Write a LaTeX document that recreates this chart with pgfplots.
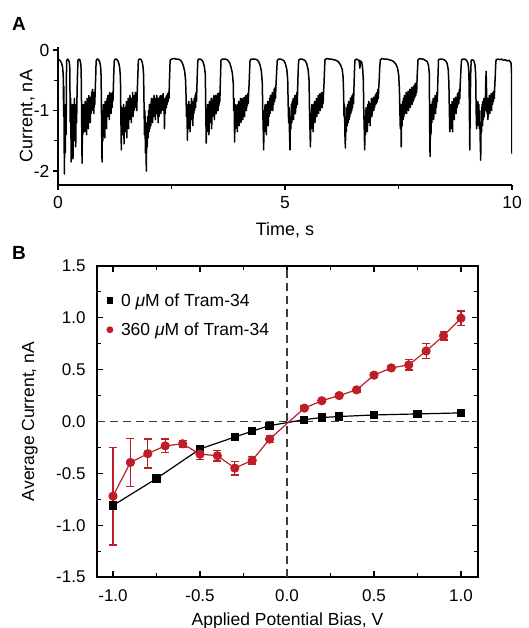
\documentclass[border=0pt]{standalone}
\usepackage{pgfplots}
\pgfplotsset{compat=1.18}
\usepackage{fontspec}
\setmainfont{Liberation Sans}
\definecolor{datared}{RGB}{190,30,40}
\definecolor{dashgray}{RGB}{60,60,60}

\begin{document}
\begin{tikzpicture}
\path[use as bounding box] (0pt,0pt) rectangle (529pt,628pt);
\node[font=\fontsize{19}{22}\selectfont\bfseries] at (19pt,604pt) {A};
\node[font=\fontsize{19}{22}\selectfont\bfseries] at (19pt,375pt) {B};

% panel A: current trace
\begin{axis}[
  at={(58pt,443pt)}, anchor=south west,
  width=454pt, height=138pt, scale only axis,
  xmin=0, xmax=10, ymin=-2.23, ymax=0.05,
  axis x line*=bottom, axis y line*=left,
  axis line style={line width=1.4pt,-},
  tick align=outside,
  major tick length=5pt, minor tick length=4pt,
  every tick/.style={black, line width=1.2pt},
  xtick={0,5,10}, minor xtick={2.5,7.5},
  ytick={-2,-1,0}, minor ytick={-1.5,-0.5},
  /pgf/number format/assume math mode=true,
  ticklabel style={font=\fontsize{17.5}{20}\selectfont},
  xticklabel style={yshift=-3pt},
  xlabel={Time, s}, ylabel={Current, nA},
  label style={font=\fontsize{18}{21}\selectfont},
  xlabel style={at={(axis description cs:0.5,-0.33)}, anchor=center},
  ylabel style={at={(axis description cs:-0.068,0.5)}, anchor=center},
]
\addplot[black, line width=1.5pt, line join=round] table {
t I
0.000 -0.14
0.020 -0.16
0.040 -0.17
0.060 -0.19
0.080 -0.22
0.100 -0.28
0.115 -0.40
0.125 -1.10
0.130 -0.60
0.140 -2.05
0.150 -1.20
0.160 -1.70
0.170 -0.90
0.180 -1.40
0.185 -0.50
0.190 -0.18
0.210 -0.15
0.230 -0.16
0.250 -0.20
0.260 -0.30
0.270 -1.20
0.280 -0.80
0.290 -1.85
0.300 -1.00
0.310 -1.60
0.320 -0.90
0.330 -1.80
0.340 -1.10
0.350 -1.50
0.360 -0.80
0.370 -1.30
0.380 -1.00
0.390 -1.60
0.400 -0.90
0.410 -1.20
0.420 -0.70
0.430 -0.40
0.440 -0.17
0.460 -0.15
0.480 -0.16
0.500 -0.22
0.510 -0.32
0.520 -1.00
0.530 -1.87
0.540 -1.10
0.550 -1.40
0.560 -0.90
0.570 -1.30
0.580 -1.00
0.590 -1.35
0.600 -0.85
0.610 -1.25
0.620 -0.95
0.630 -1.40
0.640 -0.80
0.650 -1.15
0.660 -0.90
0.670 -1.30
0.680 -0.75
0.690 -1.10
0.700 -0.85
0.710 -1.20
0.720 -0.78
0.730 -1.05
0.740 -0.70
0.750 -1.00
0.760 -0.65
0.770 -0.95
0.780 -0.75
0.790 -1.05
0.800 -0.70
0.810 -0.90
0.820 -0.65
0.830 -0.45
0.840 -0.18
0.860 -0.15
0.880 -0.15
0.900 -0.17
0.920 -0.20
0.940 -0.28
0.950 -0.45
0.960 -1.20
0.970 -1.85
0.980 -1.00
0.990 -1.50
1.000 -0.90
1.010 -1.30
1.020 -1.00
1.030 -1.45
1.040 -0.85
1.050 -1.20
1.060 -0.95
1.070 -1.30
1.080 -0.80
1.090 -1.10
1.100 -0.75
1.110 -1.05
1.120 -0.85
1.130 -1.15
1.140 -0.70
1.150 -1.00
1.160 -0.80
1.170 -1.05
1.180 -0.72
1.190 -0.95
1.200 -0.70
1.210 -0.85
1.220 -0.60
1.230 -0.35
1.240 -0.17
1.260 -0.15
1.280 -0.15
1.300 -0.16
1.320 -0.18
1.340 -0.22
1.360 -0.30
1.375 -0.45
1.385 -1.10
1.395 -1.65
1.405 -0.95
1.415 -1.40
1.425 -1.00
1.435 -1.30
1.445 -0.90
1.455 -1.55
1.465 -1.05
1.475 -1.35
1.485 -0.95
1.495 -1.25
1.505 -0.85
1.515 -1.45
1.525 -1.00
1.535 -1.20
1.545 -0.80
1.555 -1.30
1.565 -0.90
1.575 -1.15
1.585 -0.75
1.595 -1.05
1.605 -0.85
1.615 -1.20
1.625 -0.80
1.635 -1.00
1.645 -0.70
1.655 -1.10
1.665 -0.85
1.675 -1.00
1.685 -0.75
1.695 -0.95
1.705 -0.70
1.715 -0.90
1.725 -0.75
1.735 -1.00
1.745 -0.70
1.755 -0.50
1.770 -0.17
1.790 -0.15
1.810 -0.15
1.830 -0.16
1.850 -0.19
1.870 -0.26
1.885 -0.40
1.895 -0.90
1.905 -1.40
1.915 -1.00
1.925 -1.70
1.935 -1.20
1.945 -2.00
1.955 -1.30
1.965 -1.60
1.975 -1.10
1.985 -1.45
1.995 -1.00
2.005 -1.35
2.015 -0.90
2.025 -1.30
2.035 -0.95
2.045 -1.25
2.055 -0.80
2.065 -1.15
2.075 -0.85
2.085 -1.20
2.095 -0.80
2.105 -1.10
2.115 -0.75
2.125 -1.05
2.135 -0.80
2.145 -1.15
2.155 -0.85
2.165 -1.00
2.175 -0.75
2.185 -1.05
2.195 -0.80
2.205 -1.20
2.215 -0.90
2.225 -1.10
2.235 -0.78
2.245 -1.00
2.255 -0.75
2.265 -1.05
2.275 -0.82
2.285 -1.00
2.295 -0.75
2.305 -0.95
2.315 -0.72
2.325 -1.00
2.335 -0.80
2.345 -1.30
2.355 -0.85
2.365 -1.05
2.375 -0.78
2.385 -0.95
2.395 -0.75
2.405 -0.90
2.415 -0.72
2.425 -0.85
2.435 -0.70
2.445 -0.80
2.455 -0.50
2.470 -0.17
2.500 -0.15
2.550 -0.14
2.600 -0.15
2.650 -0.15
2.700 -0.17
2.730 -0.20
2.760 -0.26
2.790 -0.35
2.810 -0.50
2.820 -0.75
2.830 -1.10
2.840 -0.90
2.850 -1.49
2.860 -1.00
2.870 -1.30
2.880 -0.85
2.890 -1.20
2.900 -0.95
2.910 -1.35
2.920 -0.90
2.930 -1.15
2.940 -0.80
2.950 -1.10
2.960 -0.85
2.970 -1.25
2.980 -0.90
2.990 -1.05
3.000 -0.80
3.010 -1.00
3.020 -0.75
3.030 -0.95
3.040 -0.70
3.050 -0.85
3.060 -0.60
3.070 -0.35
3.080 -0.17
3.100 -0.15
3.130 -0.15
3.160 -0.16
3.190 -0.19
3.220 -0.26
3.245 -0.40
3.255 -1.00
3.265 -1.54
3.275 -1.00
3.285 -1.35
3.295 -0.90
3.305 -1.25
3.315 -0.95
3.325 -1.40
3.335 -0.85
3.345 -1.20
3.355 -0.90
3.365 -1.15
3.375 -0.80
3.385 -1.30
3.395 -0.85
3.405 -1.10
3.415 -0.80
3.425 -1.05
3.435 -0.75
3.445 -1.15
3.455 -0.85
3.465 -1.00
3.475 -0.75
3.485 -1.05
3.495 -0.80
3.505 -0.95
3.515 -0.72
3.525 -1.00
3.535 -0.78
3.545 -0.92
3.555 -0.70
3.565 -0.85
3.575 -0.55
3.590 -0.17
3.620 -0.15
3.660 -0.15
3.700 -0.15
3.740 -0.17
3.780 -0.21
3.810 -0.28
3.840 -0.38
3.860 -0.55
3.870 -1.00
3.880 -0.80
3.890 -1.52
3.900 -1.05
3.910 -1.30
3.920 -0.90
3.930 -1.20
3.940 -0.95
3.950 -1.35
3.960 -0.90
3.970 -1.15
3.980 -0.85
3.990 -1.25
4.000 -0.95
4.010 -1.10
4.020 -0.80
4.030 -1.20
4.040 -0.90
4.050 -1.05
4.060 -0.80
4.070 -1.15
4.080 -0.85
4.090 -1.00
4.100 -0.78
4.110 -1.10
4.120 -0.85
4.130 -0.95
4.140 -0.75
4.150 -1.00
4.160 -0.80
4.170 -0.92
4.180 -0.72
4.190 -0.88
4.200 -0.70
4.210 -0.55
4.220 -0.35
4.230 -0.17
4.260 -0.15
4.300 -0.15
4.340 -0.15
4.380 -0.16
4.420 -0.19
4.450 -0.25
4.480 -0.35
4.500 -0.55
4.510 -1.00
4.520 -1.30
4.530 -1.65
4.540 -1.00
4.550 -1.35
4.560 -0.90
4.570 -1.20
4.580 -0.95
4.590 -1.40
4.600 -0.90
4.610 -1.15
4.620 -0.85
4.630 -1.25
4.640 -0.90
4.650 -1.10
4.660 -0.80
4.670 -1.05
4.680 -0.75
4.690 -1.00
4.700 -0.80
4.710 -0.95
4.720 -0.70
4.730 -1.00
4.740 -0.75
4.750 -0.90
4.760 -0.65
4.770 -0.85
4.780 -0.62
4.790 -0.80
4.800 -0.60
4.810 -0.45
4.820 -0.30
4.830 -0.17
4.860 -0.15
4.900 -0.15
4.940 -0.16
4.980 -0.18
5.010 -0.23
5.040 -0.32
5.060 -0.50
5.070 -0.90
5.080 -1.20
5.090 -0.95
5.100 -1.40
5.110 -1.65
5.120 -1.10
5.130 -1.30
5.140 -0.90
5.150 -1.20
5.160 -0.85
5.170 -1.10
5.180 -0.80
5.190 -1.15
5.200 -0.85
5.210 -1.00
5.220 -0.75
5.230 -1.05
5.240 -0.78
5.250 -0.95
5.260 -0.70
5.270 -0.90
5.280 -0.60
5.290 -0.35
5.300 -0.17
5.330 -0.15
5.370 -0.15
5.410 -0.16
5.450 -0.18
5.480 -0.23
5.510 -0.33
5.530 -0.50
5.540 -1.00
5.550 -1.30
5.560 -1.60
5.570 -1.05
5.580 -1.30
5.590 -0.90
5.600 -1.25
5.610 -0.95
5.620 -1.35
5.630 -0.90
5.640 -1.15
5.650 -0.85
5.660 -1.20
5.670 -0.90
5.680 -1.05
5.690 -0.80
5.700 -1.10
5.710 -0.85
5.720 -1.00
5.730 -0.75
5.740 -1.05
5.750 -0.80
5.760 -0.95
5.770 -0.72
5.780 -1.00
5.790 -0.78
5.800 -0.92
5.810 -0.70
5.820 -0.95
5.830 -0.75
5.840 -0.88
5.850 -0.68
5.860 -0.55
5.870 -0.35
5.880 -0.16
5.920 -0.14
5.970 -0.15
6.020 -0.15
6.070 -0.16
6.120 -0.17
6.170 -0.19
6.220 -0.24
6.260 -0.32
6.280 -0.45
6.290 -0.70
6.300 -1.10
6.310 -0.90
6.320 -1.40
6.330 -1.62
6.340 -1.10
6.350 -1.35
6.360 -0.95
6.370 -1.25
6.380 -0.90
6.390 -1.20
6.400 -0.85
6.410 -1.15
6.420 -0.90
6.430 -1.10
6.440 -0.80
6.450 -1.05
6.460 -0.78
6.470 -1.00
6.480 -0.75
6.490 -0.95
6.500 -0.72
6.510 -0.88
6.520 -0.60
6.530 -0.35
6.540 -0.17
6.570 -0.15
6.600 -0.16
6.630 -0.17
6.650 -0.30
6.660 -0.18
6.690 -0.20
6.710 -0.30
6.725 -0.50
6.735 -1.00
6.745 -1.30
6.755 -1.65
6.765 -1.10
6.775 -1.40
6.785 -0.95
6.795 -1.25
6.805 -1.00
6.815 -1.35
6.825 -0.90
6.835 -1.20
6.845 -0.85
6.855 -1.10
6.865 -0.88
6.875 -1.25
6.885 -0.90
6.895 -1.05
6.905 -0.80
6.915 -1.10
6.925 -0.85
6.935 -1.00
6.945 -0.78
6.955 -1.00
6.965 -0.80
6.975 -0.95
6.985 -0.75
6.995 -0.90
7.005 -0.72
7.015 -0.88
7.025 -0.70
7.035 -0.85
7.045 -0.65
7.055 -0.80
7.065 -0.62
7.075 -0.50
7.085 -0.30
7.100 -0.16
7.140 -0.14
7.190 -0.15
7.240 -0.15
7.290 -0.16
7.340 -0.17
7.390 -0.19
7.440 -0.23
7.480 -0.30
7.505 -0.42
7.520 -0.65
7.530 -1.00
7.540 -1.30
7.550 -0.90
7.560 -1.60
7.570 -1.05
7.580 -1.25
7.590 -0.85
7.600 -1.15
7.610 -0.80
7.620 -1.10
7.630 -0.75
7.640 -1.05
7.650 -0.80
7.660 -1.00
7.670 -0.70
7.680 -1.05
7.690 -0.75
7.700 -0.95
7.710 -0.68
7.720 -1.00
7.730 -0.72
7.740 -0.92
7.750 -0.65
7.760 -0.95
7.770 -0.70
7.780 -0.88
7.790 -0.62
7.800 -0.90
7.810 -0.68
7.820 -0.85
7.830 -0.60
7.840 -0.82
7.850 -0.58
7.860 -0.78
7.870 -0.55
7.880 -0.75
7.890 -0.55
7.900 -0.70
7.910 -0.45
7.920 -0.30
7.930 -0.16
7.970 -0.14
8.010 -0.15
8.050 -0.15
8.090 -0.17
8.130 -0.19
8.160 -0.25
8.180 -0.40
8.185 -1.20
8.195 -1.76
8.205 -1.10
8.215 -1.40
8.225 -0.90
8.235 -1.20
8.245 -0.85
8.255 -1.10
8.265 -0.80
8.275 -1.15
8.285 -0.85
8.295 -1.00
8.305 -0.75
8.315 -1.05
8.325 -0.80
8.335 -0.95
8.345 -0.70
8.355 -0.85
8.365 -0.55
8.375 -0.30
8.380 -0.16
8.420 -0.15
8.460 -0.15
8.500 -0.16
8.540 -0.18
8.570 -0.22
8.595 -0.32
8.610 -0.55
8.620 -1.00
8.630 -1.35
8.640 -0.95
8.650 -1.30
8.660 -0.90
8.670 -1.20
8.680 -0.85
8.690 -1.35
8.700 -0.90
8.710 -1.10
8.720 -0.80
8.730 -1.15
8.740 -0.85
8.750 -1.00
8.760 -0.78
8.770 -1.05
8.780 -0.80
8.790 -0.95
8.800 -0.72
8.810 -0.90
8.820 -0.70
8.830 -0.88
8.840 -0.65
8.850 -0.80
8.860 -0.55
8.870 -0.40
8.880 -0.25
8.890 -0.16
8.920 -0.15
8.960 -0.15
9.000 -0.17
9.030 -0.22
9.050 -0.35
9.060 -0.90
9.070 -1.65
9.080 -0.90
9.090 -0.40
9.100 -0.17
9.130 -0.16
9.160 -0.18
9.185 -0.25
9.200 -0.40
9.210 -1.00
9.220 -1.30
9.230 -0.90
9.240 -1.25
9.250 -0.85
9.260 -1.20
9.270 -0.90
9.280 -1.30
9.290 -1.00
9.300 -1.50
9.310 -1.82
9.320 -1.20
9.330 -1.35
9.340 -0.90
9.350 -1.25
9.360 -0.85
9.370 -1.15
9.380 -0.80
9.390 -1.10
9.400 -0.85
9.410 -1.00
9.420 -0.60
9.430 -0.35
9.440 -0.70
9.450 -1.05
9.460 -0.80
9.470 -1.15
9.480 -0.85
9.490 -1.00
9.500 -0.75
9.510 -1.05
9.520 -0.80
9.530 -0.95
9.540 -0.72
9.550 -1.00
9.560 -0.75
9.570 -0.90
9.580 -0.70
9.590 -0.85
9.600 -0.68
9.610 -0.80
9.620 -0.60
9.630 -0.45
9.640 -0.25
9.650 -0.16
9.690 -0.15
9.730 -0.16
9.770 -0.15
9.810 -0.17
9.850 -0.16
9.890 -0.18
9.930 -0.17
9.960 -0.19
9.980 -0.22
9.990 -0.40
10.000 -1.72
};
\end{axis}

% panel B: I-V curves
\begin{axis}[
  at={(97pt,51pt)}, anchor=south west,
  width=381pt, height=311pt, scale only axis,
  xmin=-1.092, xmax=1.098, ymin=-1.5, ymax=1.5,
  xtick={-1,-0.5,0,0.5,1}, minor xtick={-0.75,-0.25,0.25,0.75},
  ytick={-1.5,-1,-0.5,0,0.5,1,1.5},
  minor ytick={-1.25,-0.75,-0.25,0.25,0.75,1.25},
  tick align=inside,
  major tick length=6pt, minor tick length=4pt,
  every tick/.style={black, line width=1.1pt},
  axis line style={line width=1.3pt},
  /pgf/number format/assume math mode=true,
  /pgf/number format/fixed, /pgf/number format/fixed zerofill,
  /pgf/number format/precision=1,
  ticklabel style={font=\fontsize{17}{20}\selectfont},
  xticklabel style={yshift=-9pt},
  yticklabel style={xshift=-8pt},
  xlabel={Applied Potential Bias, V}, ylabel={Average Current, nA},
  label style={font=\fontsize{17.5}{20}\selectfont},
  xlabel style={at={(axis description cs:0.5,-0.141)}, anchor=center},
  ylabel style={at={(axis description cs:-0.176,0.5)}, anchor=center},
  legend style={at={(axis description cs:0.018,0.925)}, anchor=north west,
    draw=none, fill=none, font=\fontsize{17.5}{20}\selectfont, row sep=11pt},
  legend cell align=left,
  legend image code/.code={%
    \path[draw=none, fill=none] (0cm,-0.05cm) rectangle (0.42cm,0.05cm);
    \draw[#1, mark size=2.8pt] plot coordinates {(0.1cm,0cm)};},
]
\draw[dashgray, line width=1.2pt, dash pattern=on 8pt off 5pt]
  (axis cs:-1.092,0) -- (axis cs:1.098,0);
\draw[dashgray, line width=1.2pt, dash pattern=on 8pt off 5pt]
  (axis cs:0,-1.5) -- (axis cs:0,1.5);

\addplot[black, line width=1.2pt, mark=square*, mark size=3.5pt,
  mark options={solid}] table {
x y
-1.00 -0.81
-0.75 -0.55
-0.50 -0.265
-0.30 -0.15
-0.20 -0.093
-0.10 -0.04
0.10 0.018
0.20 0.038
0.30 0.048
0.50 0.063
0.75 0.073
1.00 0.083
};
\addlegendentry{0 \textit{μ}M of Tram-34}

\addplot[datared, line width=1.2pt, mark=*, mark size=4pt,
  mark options={solid, fill=datared},
  error bars/.cd, y dir=both, y explicit,
  error bar style={line width=1.3pt, datared},
  error mark options={rotate=90, datared, mark size=4pt, line width=1.3pt}]
  table[x=x, y=y, y error=e] {
x y e
-1.00 -0.72 0.47
-0.90 -0.395 0.23
-0.80 -0.31 0.14
-0.70 -0.235 0.065
-0.60 -0.215 0.035
-0.50 -0.315 0.05
-0.40 -0.33 0.05
-0.30 -0.45 0.065
-0.20 -0.375 0.035
-0.10 -0.17 0.03
0.10 0.129 0.02
0.20 0.20 0.02
0.30 0.25 0.02
0.40 0.305 0.02
0.50 0.447 0.02
0.60 0.517 0.02
0.70 0.546 0.05
0.80 0.68 0.07
0.90 0.826 0.04
1.00 0.997 0.07
};
\addlegendentry{360 \textit{μ}M of Tram-34}
\end{axis}
\end{tikzpicture}
\end{document}
